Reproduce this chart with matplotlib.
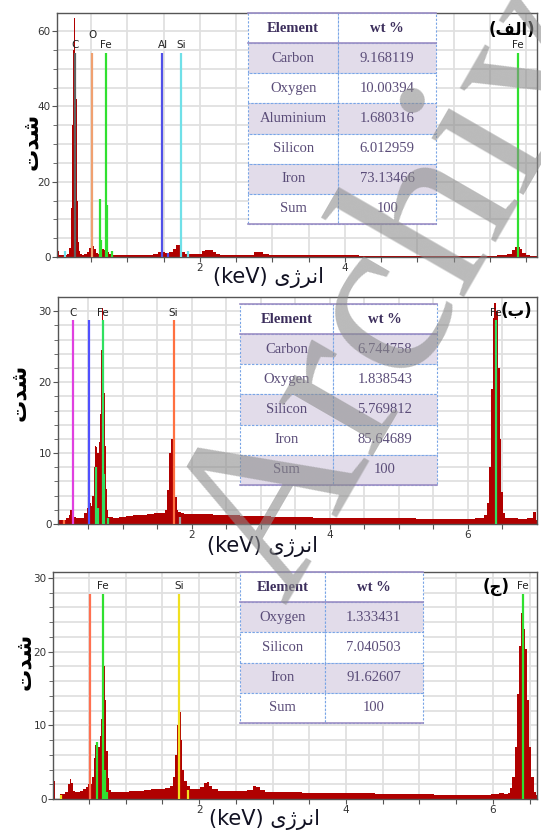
import numpy as np
import matplotlib
matplotlib.use('Agg')
import matplotlib.pyplot as plt

# ---- spectra (energy keV, counts) ----
energy_a = [0.03, 0.045, 0.06, 0.10, 0.15, 0.19, 0.21, 0.225, 0.24, 0.255, 0.275, 0.295, 0.31, 0.325, 0.34, 0.36,
            0.39, 0.42, 0.46, 0.49, 0.51, 0.53, 0.55, 0.58, 0.61, 0.64, 0.67, 0.70, 0.73, 0.76, 0.80, 0.9, 1.0,
            1.1, 1.2, 1.3, 1.4, 1.45, 1.5, 1.55, 1.6, 1.65, 1.7, 1.74, 1.78, 1.82, 1.9, 2.0, 2.05, 2.1, 2.15,
            2.2, 2.25, 2.3, 2.4, 2.5, 2.6, 2.7, 2.8, 2.85, 2.9, 3.0, 3.2, 3.4, 3.6, 3.8, 4.0, 4.4, 4.8, 5.2,
            5.6, 6.0, 6.2, 6.28, 6.33, 6.37, 6.40, 6.43, 6.47, 6.52, 6.58, 6.65]
counts_a = [2.0, 1.5, 0.5, 0.4, 0.6, 0.8, 2.5, 13, 35, 55, 63.5, 42, 15, 4, 1.5, 0.8,
            0.6, 0.8, 1.2, 2.5, 3.5, 3.0, 2.0, 1.0, 0.8, 1.5, 2.0, 1.8, 1.2, 0.7, 0.6, 0.6, 0.6,
            0.6, 0.6, 0.6, 0.8, 1.3, 1.4, 1.0, 1.2, 2.2, 3.2, 2.5, 1.2, 0.8, 0.7, 0.8, 1.5, 1.9, 1.8,
            1.2, 0.7, 0.6, 0.6, 0.6, 0.5, 0.6, 1.2, 1.3, 0.7, 0.6, 0.6, 0.6, 0.5, 0.5, 0.4, 0.3, 0.3, 0.3,
            0.3, 0.3, 0.4, 0.8, 1.8, 2.6, 2.7, 2.2, 1.0, 0.4, 0.2, 0.2]

energy_b = [0.06, 0.09, 0.12, 0.16, 0.20, 0.23, 0.25, 0.265, 0.28, 0.30, 0.34, 0.38, 0.42, 0.46, 0.49, 0.51,
            0.53, 0.55, 0.565, 0.585, 0.60, 0.62, 0.64, 0.66, 0.675, 0.69, 0.705, 0.72, 0.735, 0.75, 0.765,
            0.78, 0.80, 0.9, 1.0, 1.1, 1.2, 1.3, 1.4, 1.5, 1.58, 1.63, 1.66, 1.69, 1.715, 1.74, 1.765, 1.79,
            1.82, 1.86, 1.92, 2.0, 2.2, 2.4, 2.6, 2.8, 3.0, 3.3, 3.6, 3.9, 4.2, 4.5, 4.8, 5.1, 5.4, 5.7,
            6.0, 6.2, 6.26, 6.29, 6.32, 6.345, 6.37, 6.395, 6.42, 6.445, 6.47, 6.495, 6.52, 6.56, 6.65,
            6.8, 6.92, 6.97, 7.0]
counts_b = [0.3, 0.6, 0.5, 0.5, 0.8, 1.2, 2.0, 2.7, 2.0, 1.0, 0.9, 0.8, 0.9, 1.5, 2.2, 3.6,
            3.0, 2.5, 4.0, 8.0, 11.0, 10.8, 10.0, 11.5, 15.5, 24.5, 30.4, 24.0, 18.5, 11.0, 5.0,
            2.0, 1.0, 0.9, 1.0, 1.1, 1.2, 1.3, 1.4, 1.5, 1.5, 2.0, 4.8, 10.0, 12.0, 8.0, 3.8, 2.0,
            1.7, 1.5, 1.4, 1.4, 1.4, 1.3, 1.2, 1.1, 1.1, 1.0, 1.0, 0.9, 0.9, 0.9, 0.8, 0.8, 0.7, 0.7,
            0.7, 0.8, 1.2, 3.0, 8.0, 19.0, 29.0, 31.2, 30.0, 22.0, 12.0, 4.5, 1.5, 0.8, 0.8,
            0.7, 0.8, 1.7, 0.6]

energy_c = [0.01, 0.03, 0.05, 0.08, 0.12, 0.16, 0.20, 0.225, 0.245, 0.265, 0.29, 0.32, 0.36, 0.40, 0.44, 0.47,
            0.50, 0.53, 0.555, 0.575, 0.595, 0.615, 0.635, 0.655, 0.67, 0.685, 0.70, 0.715, 0.73, 0.745, 0.76,
            0.78, 0.82, 0.9, 1.0, 1.1, 1.2, 1.3, 1.4, 1.5, 1.58, 1.63, 1.66, 1.685, 1.71, 1.735, 1.76, 1.785,
            1.81, 1.85, 1.9, 1.98, 2.05, 2.09, 2.12, 2.16, 2.2, 2.3, 2.45, 2.6, 2.7, 2.76, 2.8, 2.85, 2.95,
            3.1, 3.3, 3.5, 3.7, 3.9, 4.1, 4.3, 4.5, 4.7, 4.9, 5.1, 5.3, 5.5, 5.7, 5.9, 6.05, 6.12, 6.18,
            6.22, 6.25, 6.28, 6.31, 6.34, 6.37, 6.395, 6.42, 6.45, 6.48, 6.51, 6.54, 6.57, 6.6]
counts_c = [13.7, 2.4, 0.0, 0.0, 0.7, 0.7, 0.9, 2.0, 2.7, 2.2, 1.1, 1.0, 1.0, 1.1, 1.3, 1.6,
            2.0, 2.0, 3.0, 5.5, 7.3, 6.8, 7.0, 8.5, 10.8, 16.8, 18.3, 18.0, 13.5, 6.5, 2.8,
            1.2, 0.9, 0.9, 1.0, 1.1, 1.1, 1.2, 1.3, 1.4, 1.5, 1.8, 3.0, 6.0, 10.0, 11.8, 8.0, 4.0,
            2.4, 1.8, 1.4, 1.3, 1.6, 2.2, 2.35, 1.8, 1.4, 1.1, 1.1, 1.1, 1.2, 1.7, 1.6, 1.2, 1.0,
            0.9, 0.9, 0.85, 0.8, 0.8, 0.75, 0.75, 0.7, 0.7, 0.65, 0.65, 0.6, 0.6, 0.6, 0.6, 0.65, 0.8, 0.7,
            0.8, 1.5, 3.0, 7.1, 14.3, 20.7, 25.2, 23.0, 20.4, 13.4, 7.1, 3.0, 1.0, 0.5]

# ---- element marker lines: (energy, height, colour, label) ----
lines_a = [(0.276, 54.2, '#606060', 'C'), (0.515, 54.2, '#f0a070', ''), (0.703, 54.2, '#30e030', 'Fe'),
           (0.62, 15.4, '#30e030', ''), (0.634, 4.5, '#30e030', ''), (0.72, 13.8, '#30e030', ''),
           (0.79, 1.5, '#30e030', ''), (1.485, 54.2, '#5050e8', 'Al'), (1.56, 1.0, '#5050e8', ''),
           (1.738, 54.2, '#70e0e8', 'Si'), (1.84, 1.5, '#70e0e8', ''), (0.147, 1.5, '#70e0e8', ''),
           (6.39, 54.2, '#30e030', 'Fe')]
lines_b = [(0.28, 28.7, '#e040e0', 'C'), (0.512, 28.7, '#5050ff', ''), (0.715, 28.7, '#30e060', 'Fe'),
           (0.604, 8.1, '#30e060', ''), (0.633, 2.3, '#30e060', ''), (0.73, 7.1, '#30e060', ''),
           (0.778, 0.8, '#30e060', ''), (1.734, 28.7, '#ff7040', 'Si'), (1.826, 1.0, '#a0a0a0', ''),
           (0.15, 0.5, '#ff7040', ''), (6.40, 28.7, '#30e060', 'Fe')]
lines_c = [(0.508, 27.8, '#ff7050', ''), (0.69, 27.8, '#30e030', 'Fe'), (0.608, 7.8, '#30e030', ''),
           (0.712, 4.0, '#30e030', ''), (0.74, 1.0, '#30e030', ''), (1.728, 27.8, '#f0e020', 'Si'),
           (1.85, 1.2, '#f0e020', ''), (0.115, 0.6, '#f0e020', ''), (6.41, 27.8, '#30e030', 'Fe')]
o_label = {'a': (0.515, 57.5), 'b': (0.512, 31.8), 'c': (0.508, 30.6)}
xtick_labels = {'a': [2, 4], 'b': [2, 4, 6], 'c': [2, 4, 6]}

# ---- tables ----
elements_a = ['Carbon', 'Oxygen', 'Aluminium', 'Silicon', 'Iron', 'Sum']
wt_a = ['9.168119', '10.00394', '1.680316', '6.012959', '73.13466', '100']
elements_b = ['Carbon', 'Oxygen', 'Silicon', 'Iron', 'Sum']
wt_b = ['6.744758', '1.838543', '5.769812', '85.64689', '100']
elements_c = ['Oxygen', 'Silicon', 'Iron', 'Sum']
wt_c = ['1.333431', '7.040503', '91.62607', '100']

# Persian text (presentation forms, visual order)
shedat = '\uFE95\uFEAA\uFEB7'
energy_fa = '\uFBFC\uFB8A\uFEAE\uFEE7\uFE8D'
xlabel_txt = '(keV) ' + energy_fa
panel_tags = ['(\uFED2\uFEDF\uFE8D)', '(\uFE8F)', '(\uFE9D)']

RED = '#b00000'
LAV = '#e2dcea'
W, H = 541, 834

fig = plt.figure(figsize=(W / 100, H / 100), dpi=100)


def px_axes(x0, y0, x1, y1):
    return fig.add_axes([x0 / W, 1 - y1 / H, (x1 - x0) / W, (y1 - y0) / H])


def style(ax, xlim, ylim, ymajor, yminor, xlabs):
    ax.set_xlim(*xlim)
    ax.set_ylim(*ylim)
    ax.set_xticks(np.arange(0.5, xlim[1], 0.5))
    ax.set_xticklabels([str(int(t)) if t in xlabs else '' for t in np.arange(0.5, xlim[1], 0.5)])
    ax.set_yticks(np.arange(0, ylim[1], ymajor))
    ax.set_yticks(np.arange(0, ylim[1], yminor), minor=True)
    ax.grid(which='both', color='#e0e0e0', lw=1.3)
    ax.set_axisbelow(True)
    ax.tick_params(which='both', labelsize=7.5, labelcolor='#333333', color='#555555', direction='out')
    ax.tick_params(which='major', length=3.5, pad=1)
    ax.tick_params(which='minor', length=3)
    for s in ax.spines.values():
        s.set_color('#555555')
        s.set_linewidth(1.0)


def draw_table(ax, elements, wt, bbox, colw):
    rows = [['Element', 'wt %']] + [[e, v] for e, v in zip(elements, wt)]
    tb = ax.table(cellText=rows, cellLoc='center', bbox=bbox, colWidths=colw, zorder=6)
    tb.auto_set_font_size(False)
    tb.set_fontsize(10.5)
    for (r, c), cell in tb.get_celld().items():
        cell.set_edgecolor('#78a4e6')
        cell.set_linestyle((0, (2, 1.5)))
        cell.set_linewidth(0.8)
        cell.set_facecolor(LAV if r % 2 == 1 else 'white')
        t = cell.get_text()
        t.set_fontfamily('Liberation Serif')
        t.set_color('#5a4c78')
        if r == 0:
            t.set_fontweight('bold')
            t.set_color('#3c2e5c')
    x0, y0, w, h = bbox
    n = len(rows)
    for y in (y0 + h, y0 + h - h / n, y0):
        ax.plot([x0, x0 + w], [y, y], transform=ax.transAxes, color='#9d8fc4', lw=1.2,
                zorder=7, clip_on=False)


def draw_panel(ax, energy, counts, lines, olab):
    ax.fill_between(energy, counts, step='mid', color=RED, lw=0, zorder=2)
    for x, h, col, lab in lines:
        ax.vlines(x, 0, h, colors=col, lw=1.6, zorder=3)
        if lab:
            ax.text(x, h + 0.012 * ax.get_ylim()[1], lab, ha='center', va='bottom', fontsize=7.5,
                    color='#222222', zorder=4, clip_on=True)
    ax.text(olab[0], olab[1], 'O', ha='center', va='bottom', fontsize=7.5, color='#222222',
            zorder=4, clip_on=True)


fa = ['DejaVu Sans']

# ---- panel (a) ----
ax1 = px_axes(57, 13, 537, 257)
style(ax1, (0.03, 6.65), (0, 64.8), 20, 5, xtick_labels['a'])
draw_panel(ax1, energy_a, counts_a, lines_a, o_label['a'])
draw_table(ax1, elements_a, wt_a, [0.398, 0.135, 0.392, 0.865], [0.479, 0.521])
ax1.text(0.44, -0.085, xlabel_txt, transform=ax1.transAxes, ha='center', va='center', fontsize=15,
         family=fa, color='#111122')
ax1.text(-0.054, 0.475, shedat, transform=ax1.transAxes, ha='center', va='center', fontsize=16,
         rotation=90, family=fa, fontweight='bold')
ax1.text(0.948, 0.93, panel_tags[0], transform=ax1.transAxes, ha='center', va='center', fontsize=12,
         family=fa, fontweight='bold', zorder=8)

# ---- panel (b) ----
ax2 = px_axes(58, 297, 537, 524)
style(ax2, (0.06, 7.0), (0, 32), 10, 2, xtick_labels['b'])
draw_panel(ax2, energy_b, counts_b, lines_b, o_label['b'])
draw_table(ax2, elements_b, wt_b, [0.380, 0.172, 0.411, 0.797], [0.472, 0.528])
ax2.text(0.426, -0.101, xlabel_txt, transform=ax2.transAxes, ha='center', va='center', fontsize=15,
         family=fa, color='#111122')
ax2.text(-0.081, 0.579, shedat, transform=ax2.transAxes, ha='center', va='center', fontsize=16,
         rotation=90, family=fa, fontweight='bold')
ax2.text(0.958, 0.938, panel_tags[1], transform=ax2.transAxes, ha='center', va='center', fontsize=12,
         family=fa, fontweight='bold', zorder=8)

# ---- panel (c) ----
ax3 = px_axes(53, 572, 537, 799)
style(ax3, (0.01, 6.6), (0, 30.8), 10, 2, xtick_labels['c'])
draw_panel(ax3, energy_c, counts_c, lines_c, o_label['c'])
draw_table(ax3, elements_c, wt_c, [0.386, 0.335, 0.378, 0.665], [0.464, 0.536])
ax3.text(0.436, -0.0925, xlabel_txt, transform=ax3.transAxes, ha='center', va='center', fontsize=15,
         family=fa, color='#111122')
ax3.text(-0.06, 0.605, shedat, transform=ax3.transAxes, ha='center', va='center', fontsize=16,
         rotation=90, family=fa, fontweight='bold')
ax3.text(0.915, 0.934, panel_tags[2], transform=ax3.transAxes, ha='center', va='center', fontsize=12,
         family=fa, fontweight='bold', zorder=8)

# watermark
fig.text(285 / W, 1 - 605 / H, 'Archive', rotation=60, rotation_mode='anchor', fontsize=170,
         family='Liberation Serif', color='#8c8c8c', alpha=0.6, ha='left', va='baseline', zorder=20)

fig.savefig('out.png', dpi=100)
